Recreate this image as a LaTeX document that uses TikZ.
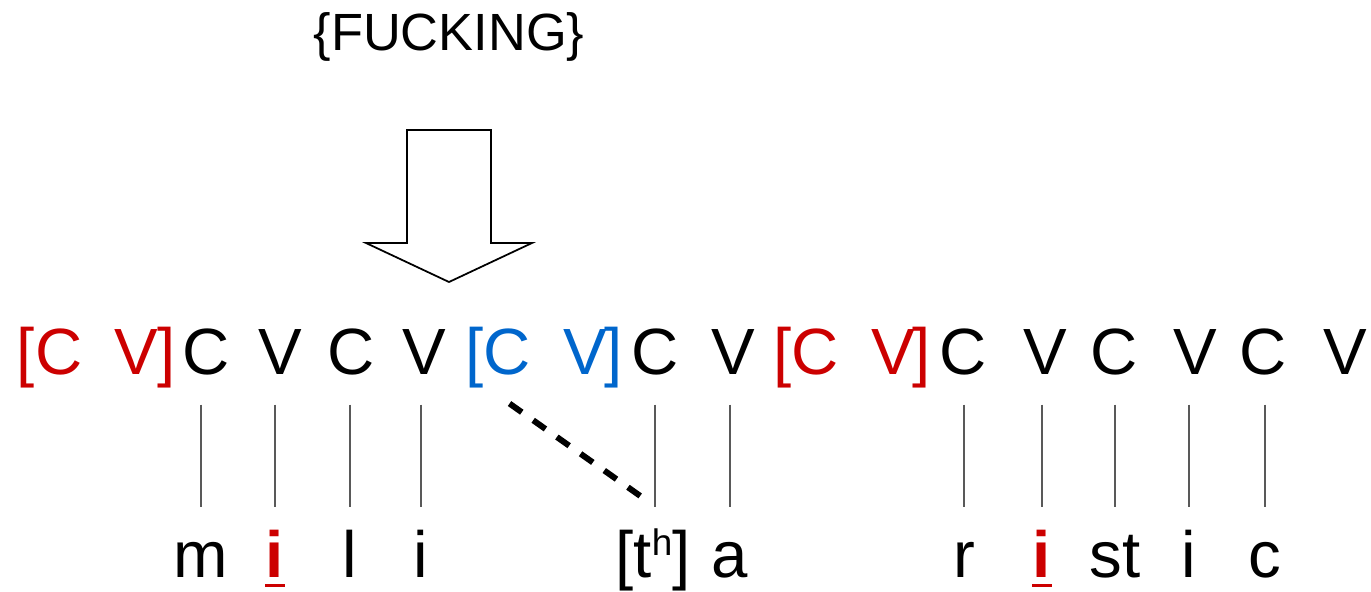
\documentclass[tikz,border=0pt]{standalone}
\usepackage{fontspec}
\setmainfont{Liberation Sans}
\usepackage{xcolor}

\definecolor{cvred}{RGB}{204,0,0}
\definecolor{cvblue}{RGB}{0,102,204}
% red bold vowel with a heavy bar underneath
\newcommand{\stressed}[1]{\textcolor{cvred}{\bfseries\setbox0\hbox{#1}\rlap{\kern-0.01em\rule[-0.15em]{\dimexpr\wd0+0.02em\relax}{0.05em}}#1}}

\begin{document}
\begin{tikzpicture}[line cap=butt,
  slot/.style={anchor=base,inner sep=0pt,text height=0.47cm,text depth=0pt,font=\fontsize{18.6}{22}\selectfont},
  seg/.style={anchor=base,inner sep=0pt,text height=0.5cm,text depth=0.15cm,font=\fontsize{18.6}{22}\selectfont},
  tie/.style={black!65,line width=0.45pt,shorten <=0.3cm,shorten >=0.19cm},
  spread/.style={line width=1.7pt,dash pattern=on 0.15cm off 0.14cm,shorten <=0.5cm,shorten >=0.46cm}]
\useasboundingbox (0,0) rectangle (13.71,5.91);

% infix and insertion arrow
\node[anchor=base,inner sep=0pt,font=\fontsize{14.9}{18}\selectfont] (infix) at (4.49,5.41) {\{FUCKING\}};
\draw[line width=0.5pt,line join=miter] (4.07,4.61) -- (4.91,4.61) -- (4.91,3.48) -- (5.32,3.48) -- (4.49,3.09)
  -- (3.66,3.48) -- (4.07,3.48) -- cycle;

% CV skeleton
\node[slot,cvred] (lb1) at (0.26,2.17) {[};
\node[slot,cvred] (c1) at (0.59,2.17) {C};
\node[slot,cvred] (v1) at (1.36,2.17) {V};
\node[slot,cvred] (rb1) at (1.67,2.17) {]};
\node[slot] (c2) at (2.06,2.17) {C};
\node[slot] (v2) at (2.80,2.17) {V};
\node[slot] (c3) at (3.51,2.17) {C};
\node[slot] (v3) at (4.245,2.17) {V};
\node[slot,cvblue] (lb2) at (4.75,2.17) {[};
\node[slot,cvblue] (c4) at (5.07,2.17) {C};
\node[slot,cvblue] (v4) at (5.85,2.17) {V};
\node[slot,cvblue] (rb2) at (6.14,2.17) {]};
\node[slot] (c5) at (6.55,2.17) {C};
\node[slot] (v5) at (7.33,2.17) {V};
\node[slot,cvred] (lb3) at (7.83,2.17) {[};
\node[slot,cvred] (c6) at (8.15,2.17) {C};
\node[slot,cvred] (v6) at (8.93,2.17) {V};
\node[slot,cvred] (rb3) at (9.22,2.17) {]};
\node[slot] (c7) at (9.63,2.17) {C};
\node[slot] (v7) at (10.45,2.17) {V};
\node[slot] (c8) at (11.145,2.17) {C};
\node[slot] (v8) at (11.95,2.17) {V};
\node[slot] (c9) at (12.63,2.17) {C};
\node[slot] (v9) at (13.45,2.17) {V};

% segments
\node[seg] (m) at (2.01,0.14) {m};
\node[seg] (i1) at (2.75,0.14) {\stressed{i}};
\node[seg] (l) at (3.50,0.14) {l};
\node[seg] (i2) at (4.21,0.14) {i};
\node[seg] (th) at (6.53,0.14) {[t\raisebox{6.2pt}{\fontsize{10.5}{12}\selectfont h}]};
\node[seg] (a) at (7.30,0.14) {a};
\node[seg] (r) at (9.64,0.14) {r};
\node[seg] (i3) at (10.42,0.14) {\stressed{i}};
\node[seg] (st) at (11.15,0.14) {st};
\node[seg] (i4) at (11.89,0.14) {i};
\node[seg] (c) at (12.65,0.14) {c};

% association lines
\draw[tie] (m.north |- c2.south) -- (m.north);
\draw[tie] (i1.north |- v2.south) -- (i1.north);
\draw[tie] (l.north |- c3.south) -- (l.north);
\draw[tie] (i2.north |- v3.south) -- (i2.north);
\draw[tie] (c5.south) -- (c5.south |- th.north);
\draw[tie] (a.north |- v5.south) -- (a.north);
\draw[tie] (r.north |- c7.south) -- (r.north);
\draw[tie] (i3.north |- v7.south) -- (i3.north);
\draw[tie] (st.north |- c8.south) -- (st.north);
\draw[tie] (i4.north |- v8.south) -- (i4.north);
\draw[tie] (c.north |- c9.south) -- (c.north);
\draw[spread] ([xshift=-0.14cm]c4.south west) -- ([xshift=-0.08cm]th.north east);
\end{tikzpicture}
\end{document}
